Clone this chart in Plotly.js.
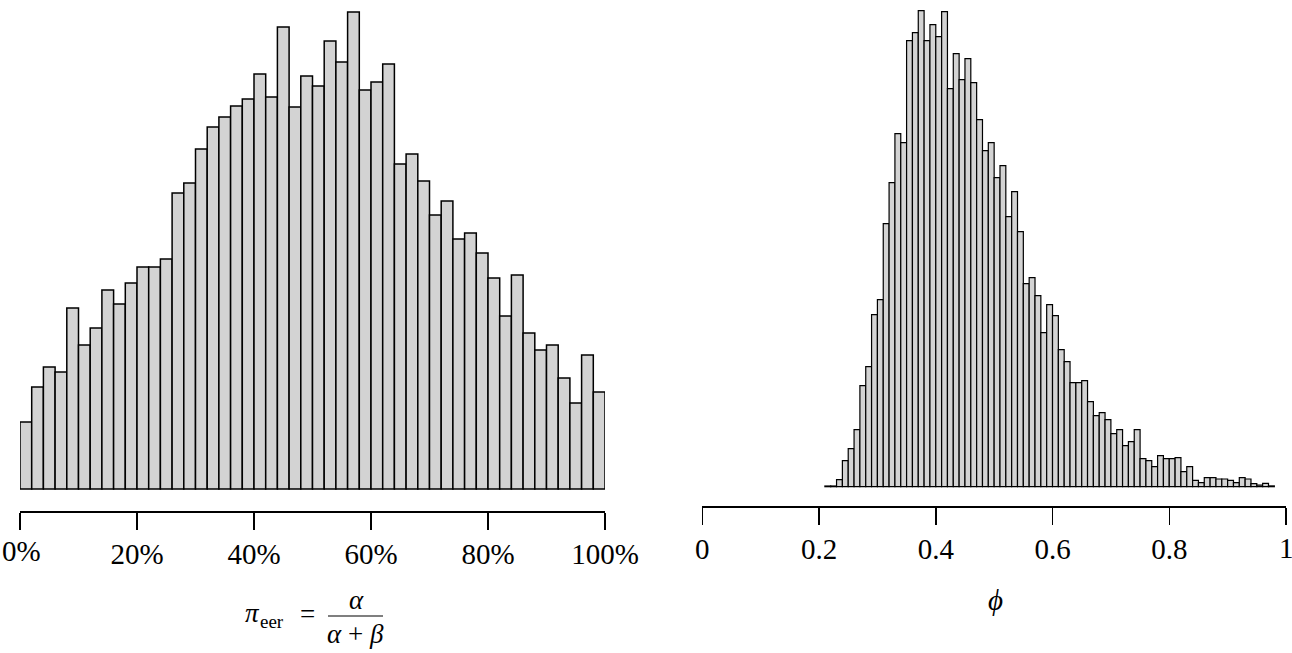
<!DOCTYPE html>
<html>
<head>
<meta charset="utf-8">
<script src="https://cdn.plot.ly/plotly-3.0.1.min.js"></script>
<style>html,body{margin:0;padding:0;background:#fff;}#chart{width:1292px;height:653px;}</style>
</head>
<body>
<div id="chart"></div>
<script>
// Left histogram: pi_eer, bins of 2% from 0% to 100%
const leftBinCenters = [1,3,5,7,9,11,13,15,17,19,21,23,25,27,29,31,33,35,37,39,41,43,45,47,49,
  51,53,55,57,59,61,63,65,67,69,71,73,75,77,79,81,83,85,87,89,91,93,95,97,99];
const leftCounts = [67,102,122,117,181,144,161,199,185,206,222,222,230,296,306,340,362,372,383,390,
  415,392,462,382,413,403,448,427,477,399,407,425,325,335,308,274,288,250,256,236,
  211,173,214,156,139,144,111,86,134,97];
const leftTickVals = [0,20,40,60,80,100];
const leftTickText = ['','20%','40%','60%','80%','100%'];
const leftFirstTick = '0%';

// Right histogram: phi, bins of 0.01 from 0.21 to 0.98
const rightBinCenters = [0.215,0.225,0.235,0.245,0.255,0.265,0.275,0.285,0.295,0.305,0.315,0.325,0.335,0.345,
  0.355,0.365,0.375,0.385,0.395,0.405,0.415,0.425,0.435,0.445,0.455,0.465,0.475,0.485,0.495,
  0.505,0.515,0.525,0.535,0.545,0.555,0.565,0.575,0.585,0.595,0.605,0.615,0.625,0.635,0.645,
  0.655,0.665,0.675,0.685,0.695,0.705,0.715,0.725,0.735,0.745,0.755,0.765,0.775,0.785,0.795,
  0.805,0.815,0.825,0.835,0.845,0.855,0.865,0.875,0.885,0.895,0.905,0.915,0.925,0.935,0.945,
  0.955,0.965,0.975];
const rightCounts = [0.7,0.7,7,26,38,57,101,120,172,187,263,304,353,344,446,454,476,446,462,450,475,398,433,407,428,404,
  367,336,344,309,321,270,295,255,203,209,191,154,182,171,137,125,104,104,106,85,71,74,67,53,
  57,41,45,57,28,26,20,31,28,28,29,15,20,6.3,4,9,9,7.7,7.7,6.3,4,9,7.7,3,1.5,3.3,0.8];
const rightTickVals = [0,0.2,0.4,0.6,0.8,1];
const rightTickText = ['0','0.2','0.4','0.6','0.8',''];
const rightLastTick = '1';

const W = 1292, H = 653;
const px = x => x / W;
const py = y => 1 - y / H;

const serif = 'Liberation Serif, Times New Roman, serif';
const tickSize = 29;

const traces = [
  {type:'bar', x:leftBinCenters, y:leftCounts, width:2, xaxis:'x', yaxis:'y',
   marker:{color:'#d3d3d3', line:{color:'#000', width:1.5}}, hoverinfo:'x+y'},
  {type:'bar', x:rightBinCenters, y:rightCounts, width:0.01, xaxis:'x2', yaxis:'y2',
   marker:{color:'#d3d3d3', line:{color:'#000', width:1.2}}, hoverinfo:'x+y'}
];

const axisCommon = {
  showline:true, linecolor:'#000', linewidth:1.5, ticks:'outside', ticklen:17,
  tickwidth:1.5, tickcolor:'#000', showgrid:false, zeroline:false, fixedrange:true,
  tickfont:{family:serif, size:tickSize, color:'#000'}, tickmode:'array'
};

const txt = (x, y, text, size, anchor) => ({xref:'paper', yref:'paper', x:px(x), y:py(y),
  xanchor:anchor || 'center', yanchor:'middle', showarrow:false, text:text,
  font:{family:serif, size:size, color:'#000'}});

const layout = {
  width:W, height:H, margin:{l:0,r:0,t:0,b:0}, paper_bgcolor:'#fff', plot_bgcolor:'#fff',
  showlegend:false, bargap:0,
  xaxis: Object.assign({}, axisCommon, {domain:[px(20), px(605)], range:[0,100], anchor:'y',
    tickvals:leftTickVals, ticktext:leftTickText}),
  yaxis: {domain:[py(511), 1], range:[-22, 489], visible:false, fixedrange:true},
  xaxis2: Object.assign({}, axisCommon, {domain:[px(702.3), px(1286)], range:[0,1], anchor:'y2',
    tickvals:rightTickVals, ticktext:rightTickText}),
  yaxis2: {domain:[py(506), 1], range:[-19.3, 486.7], visible:false, fixedrange:true, anchor:'x2'},
  shapes:[
    {type:'line', xref:'paper', yref:'paper', x0:px(328), x1:px(383), y0:py(616), y1:py(616),
     line:{color:'#000', width:1.2}}
  ],
  annotations:[
    txt(21.5, 551, leftFirstTick, tickSize),
    txt(1286, 548, rightLastTick, tickSize),
    txt(252, 613, '<i>π</i>', 27),
    txt(258, 621, 'eer', 19, 'left'),
    txt(307, 614, '=', 27),
    txt(356, 600, '<i>α</i>', 27),
    txt(355, 634, '<i>α</i> + <i>β</i>', 27),
    txt(995, 600, '<i>ϕ</i>', 29)
  ]
};

Plotly.newPlot('chart', traces, layout, {displayModeBar:false, staticPlot:true});
</script>
</body>
</html>
